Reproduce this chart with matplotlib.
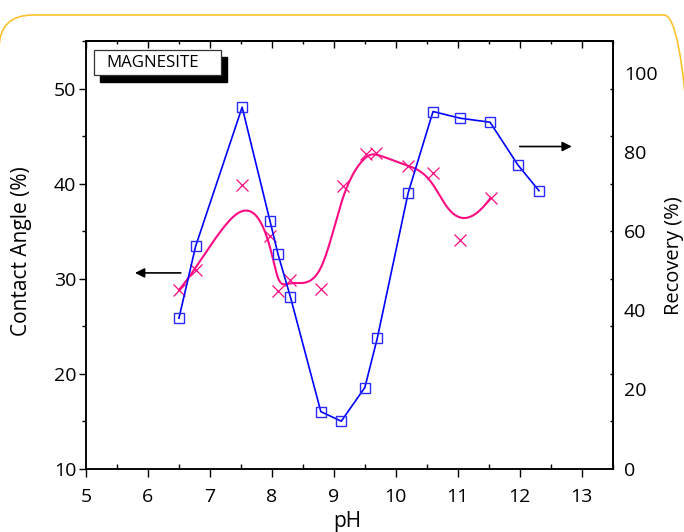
import numpy as np
import matplotlib
matplotlib.use("Agg")
import matplotlib.pyplot as plt
from matplotlib.patches import FancyBboxPatch, Rectangle
from matplotlib.ticker import MultipleLocator
from matplotlib.transforms import IdentityTransform

plt.rcParams['font.family'] = ['Open Sans', 'DejaVu Sans']

# Contact angle (left axis)
ph_ca = [6.50, 6.78, 7.52, 7.97, 8.10, 8.30, 8.79, 9.14, 9.52, 9.68, 10.19, 10.60, 11.04, 11.53]
contact_angle = [28.8, 30.9, 39.8, 34.5, 28.7, 29.9, 28.9, 39.7, 43.1, 43.2, 41.8, 41.1, 34.1, 38.5]

# Flotation recovery (right axis)
ph_rec = [6.50, 6.77, 7.52, 7.97, 8.10, 8.30, 8.79, 9.12, 9.50, 9.70, 10.20, 10.60, 11.04, 11.52, 11.97, 12.31]
recovery = [38.0, 56.2, 91.3, 62.5, 54.1, 43.3, 14.4, 12.0, 20.5, 32.9, 69.7, 90.2, 88.5, 87.5, 76.7, 70.2]

x_ticks = list(range(5, 14))
ca_ticks = [10, 20, 30, 40, 50]
rec_ticks = [0, 20, 40, 60, 80, 100]

BLUE = '#0000ff'
BLUE_MK = '#2a2aff'
PINK = '#ff0a84'


def bspline(px, py, n=500, k=3):
    """Clamped uniform cubic B-spline using the points as control points."""
    px = np.asarray(px, float)
    py = np.asarray(py, float)
    m = len(px)
    knots = np.concatenate([np.zeros(k), np.arange(m - k + 1), np.full(k, m - k)]).astype(float)
    t = np.linspace(0, m - k, n)
    nb = len(knots) - 1
    N = np.zeros((nb, n))
    for i in range(nb):
        N[i] = (knots[i] <= t) & (t < knots[i + 1])
    last = np.where(knots < knots[-1])[0][-1]
    N[last, t == knots[-1]] = 1.0
    for p in range(1, k + 1):
        Nn = np.zeros((nb - p, n))
        for i in range(nb - p):
            d1 = knots[i + p] - knots[i]
            d2 = knots[i + p + 1] - knots[i + 1]
            a = (t - knots[i]) / d1 * N[i] if d1 > 0 else 0.0
            b = (knots[i + p + 1] - t) / d2 * N[i + 1] if d2 > 0 else 0.0
            Nn[i] = a + b
        N = Nn
    return px @ N, py @ N


fig = plt.figure(figsize=(6.84, 5.32), dpi=100)
fig.patch.set_facecolor('white')

# rounded frame around the figure
frame = FancyBboxPatch((-1, -50), 699, 567, boxstyle='round,pad=0,rounding_size=34',
                       transform=IdentityTransform(), facecolor='none',
                       edgecolor='#fbc22c', linewidth=1.2)
fig.add_artist(frame)

ax = fig.add_axes([0.1257, 0.1190, 0.7701, 0.8039])
ax.set_xlim(5, 13.5)
ax.set_ylim(10, 55)
ax.set_xticks(x_ticks)
ax.xaxis.set_minor_locator(MultipleLocator(0.5))
ax.set_yticks(ca_ticks)
ax.yaxis.set_minor_locator(MultipleLocator(5))
for s in ax.spines.values():
    s.set_linewidth(1.1)
ax.tick_params(axis='x', which='major', direction='out', length=6, width=1.0,
               labelsize=14, pad=8, top=False)
ax.tick_params(axis='x', which='minor', direction='in', length=3.5, width=1.0, top=False)
ax.tick_params(axis='y', which='major', direction='out', length=5, width=1.0,
               labelsize=14, pad=2, right=False)
ax.tick_params(axis='y', which='minor', direction='out', length=3, width=1.0, right=False)

# top ticks pointing inward
top = ax.secondary_xaxis('top')
top.set_xticks(x_ticks)
top.xaxis.set_minor_locator(MultipleLocator(0.5))
top.tick_params(which='major', direction='in', length=5, width=1.0, labeltop=False)
top.tick_params(which='minor', direction='in', length=2.5, width=1.0)
top.spines['top'].set_linewidth(1.1)

# small inward ticks on the right edge
rt = ax.secondary_yaxis('right')
rt.set_yticks(list(range(15, 56, 5)))
rt.tick_params(which='major', direction='in', length=2.5, width=1.0, labelright=False)
rt.spines['right'].set_linewidth(1.1)

# contact angle: markers and smoothed curve
sx, sy = bspline(ph_ca, contact_angle)
ax.plot(sx, sy, color=PINK, lw=1.5, zorder=3)
ax.plot(ph_ca, contact_angle, linestyle='none', marker='x', markersize=8,
        markeredgewidth=0.9, color=PINK, zorder=4)

# recovery on the twin axis
ax2 = ax.twinx()
ax2.set_ylim(0, 108)
ax2.set_yticks(rec_ticks)
ax2.tick_params(axis='y', length=0, labelsize=14, pad=8)
for s in ax2.spines.values():
    s.set_linewidth(1.1)
ax2.plot(ph_rec, recovery, color=BLUE, lw=1.2, marker='s', markersize=6.5,
         markerfacecolor='none', markeredgecolor=BLUE_MK, markeredgewidth=1.0, zorder=5)

# axis arrows
ax.annotate('', xy=(5.79, 30.6), xytext=(6.53, 30.6),
            arrowprops=dict(arrowstyle='-|>', color='black', lw=1.2, mutation_scale=14,
                            shrinkA=0, shrinkB=0))
ax.annotate('', xy=(12.84, 43.9), xytext=(12.0, 43.9),
            arrowprops=dict(arrowstyle='-|>', color='black', lw=1.2, mutation_scale=14,
                            shrinkA=0, shrinkB=0))

# sample label with drop shadow
ax.add_patch(Rectangle((0.0266, 0.905), 0.241, 0.058, transform=ax.transAxes,
                       facecolor='black', edgecolor='black', zorder=8, clip_on=False))
ax.add_patch(Rectangle((0.0152, 0.920), 0.241, 0.059, transform=ax.transAxes,
                       facecolor='white', edgecolor='#333333', lw=0.9, zorder=9, clip_on=False))
ax.text(0.038, 0.9495, 'MAGNESITE', transform=ax.transAxes, fontsize=12.2,
        ha='left', va='center', zorder=10)

# axis titles
fig.text(22 / 684, 1 - 251 / 532, 'Contact Angle (%)', rotation=90, fontsize=15,
         ha='center', va='center')
fig.text(674 / 684, 1 - 256 / 532, 'Recovery (%)', rotation=90, fontsize=14.5,
         ha='center', va='center')
fig.text(347 / 684, 1 - 521 / 532, 'pH', fontsize=15, ha='center', va='center')

fig.savefig('out.png', dpi=100)
